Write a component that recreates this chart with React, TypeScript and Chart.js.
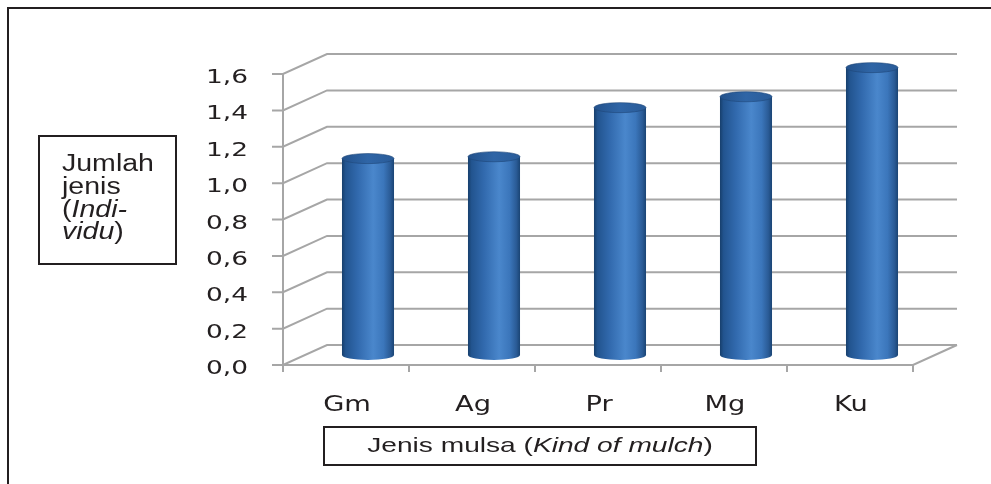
import React, { useEffect, useRef } from "react";
import { Chart, registerables } from "chart.js";

Chart.register(...registerables);

// ---- data ----
const categories = ["Gm", "Ag", "Pr", "Mg", "Ku"];
const values = [1.08, 1.09, 1.36, 1.42, 1.58];
const yTicks = [0, 0.2, 0.4, 0.6, 0.8, 1.0, 1.2, 1.4, 1.6];
const yTickLabels = ["0,0", "0,2", "0,4", "0,6", "0,8", "1,0", "1,2", "1,4", "1,6"];
type Part = { t: string; i?: boolean };
const yTitleLines: Part[][] = [
  [{ t: "Jumlah" }],
  [{ t: "jenis" }],
  [{ t: "(" }, { t: "Indi-", i: true }],
  [{ t: "vidu", i: true }, { t: ")" }],
];
const xTitle: Part[] = [{ t: "Jenis mulsa (" }, { t: "Kind of mulch", i: true }, { t: ")" }];

// ---- style ----
const DX = 44;
const DY = -20;
const GRID = "#a6a6a6";
const INK = "#231f20";

function drawRich(
  ctx: CanvasRenderingContext2D,
  parts: Part[],
  x: number,
  y: number,
  size: number,
  family: string,
  sx: number,
  align: "left" | "center" | "right"
) {
  const fonts = parts.map((p) => `${p.i ? "italic " : ""}${size}px ${family}`);
  let total = 0;
  const widths = parts.map((p, k) => {
    ctx.font = fonts[k];
    const w = ctx.measureText(p.t).width * sx;
    total += w;
    return w;
  });
  let cx = align === "center" ? x - total / 2 : align === "right" ? x - total : x;
  parts.forEach((p, k) => {
    ctx.save();
    ctx.font = fonts[k];
    ctx.fillStyle = INK;
    ctx.textAlign = "left";
    ctx.textBaseline = "alphabetic";
    ctx.translate(cx, y);
    ctx.scale(sx, 1);
    ctx.fillText(p.t, 0, 0);
    ctx.restore();
    cx += widths[k];
  });
}

const decorPlugin = {
  id: "decor3d",
  beforeDatasetsDraw(chart: any) {
    const { ctx, chartArea } = chart;
    const { left, right, top, bottom } = chartArea;
    const ys = chart.scales.y;
    const n = categories.length;

    ctx.save();
    // outer frame (top and left)
    ctx.strokeStyle = INK;
    ctx.lineWidth = 2;
    ctx.beginPath();
    ctx.moveTo(991, 8);
    ctx.lineTo(8, 8);
    ctx.lineTo(8, 484);
    ctx.stroke();

    // walls / gridlines
    ctx.strokeStyle = GRID;
    ctx.lineWidth = 2;
    ctx.lineCap = "butt";
    yTicks.forEach((v) => {
      const py = ys.getPixelForValue(v);
      ctx.beginPath();
      ctx.moveTo(left - 11, py);
      ctx.lineTo(left, py);
      ctx.lineTo(left + DX, py + DY);
      ctx.lineTo(right + DX, py + DY);
      ctx.stroke();
    });
    // front vertical axis
    ctx.beginPath();
    ctx.moveTo(left, top - 1);
    ctx.lineTo(left, bottom + 7);
    ctx.stroke();
    // floor front edge and right diagonal
    ctx.beginPath();
    ctx.moveTo(left, bottom);
    ctx.lineTo(right, bottom);
    ctx.lineTo(right + DX, bottom + DY);
    ctx.stroke();
    // category tick marks
    for (let i = 0; i <= n; i++) {
      const px = left + ((right - left) * i) / n;
      ctx.beginPath();
      ctx.moveTo(px, bottom);
      ctx.lineTo(px, bottom + 7);
      ctx.stroke();
    }

    // y tick labels
    yTicks.forEach((v, k) => {
      const py = ys.getPixelForValue(v);
      drawRich(ctx, [{ t: yTickLabels[k] }], 248, py + 9, 20, "'DejaVu Sans'", 1.32, "right");
    });

    // category labels
    const xs = chart.scales.x;
    categories.forEach((c, i) => {
      const px = xs.getPixelForValue(i);
      drawRich(ctx, [{ t: c }], px + 1, 410.5, 21, "'DejaVu Sans'", 1.3, "center");
    });

    // y title box
    ctx.strokeStyle = INK;
    ctx.lineWidth = 2;
    ctx.strokeRect(39, 136, 137, 128);
    const base = [171, 194, 216.5, 238.5];
    yTitleLines.forEach((line, k) => {
      drawRich(ctx, line, 62, base[k], 23, "'Liberation Sans'", 1.24, "left");
    });

    // x title box
    ctx.strokeRect(324, 427, 432, 38);
    drawRich(ctx, xTitle, 540, 451.5, 21, "'Liberation Sans'", 1.34, "center");

    ctx.restore();
  },
  afterDatasetsDraw(chart: any) {
    const { ctx } = chart;
    const meta = chart.getDatasetMeta(0);
    ctx.save();
    meta.data.forEach((bar: any) => {
      const p = bar.getProps(["x", "y", "base", "width"], true);
      const cx = p.x + DX / 2;
      const topY = p.y + DY / 2;
      const botY = p.base + DY / 2;
      const rx = p.width / 2;
      const ry = 5;

      const g = ctx.createLinearGradient(cx - rx, 0, cx + rx, 0);
      g.addColorStop(0, "#173f6c");
      g.addColorStop(0.07, "#22548f");
      g.addColorStop(0.3, "#3169ad");
      g.addColorStop(0.6, "#4a87cc");
      g.addColorStop(0.8, "#3b76bb");
      g.addColorStop(0.93, "#2a5b96");
      g.addColorStop(1, "#1a4474");

      ctx.beginPath();
      ctx.moveTo(cx - rx, topY);
      ctx.lineTo(cx - rx, botY);
      ctx.ellipse(cx, botY, rx, ry, 0, Math.PI, 0, true);
      ctx.lineTo(cx + rx, topY);
      ctx.closePath();
      ctx.fillStyle = g;
      ctx.fill();

      const gt = ctx.createLinearGradient(cx - rx, 0, cx + rx, 0);
      gt.addColorStop(0, "#23528c");
      gt.addColorStop(0.5, "#2f65a6");
      gt.addColorStop(1, "#2a5c99");
      ctx.beginPath();
      ctx.ellipse(cx, topY, rx, ry, 0, 0, Math.PI * 2);
      ctx.fillStyle = gt;
      ctx.fill();
      ctx.strokeStyle = "rgba(30,70,120,0.6)";
      ctx.lineWidth = 1;
      ctx.stroke();
    });
    ctx.restore();
  },
};

export default function App() {
  const ref = useRef<HTMLCanvasElement | null>(null);
  useEffect(() => {
    if (!ref.current) return;
    const chart = new Chart(ref.current, {
      type: "bar",
      data: {
        labels: categories,
        datasets: [
          {
            data: values,
            backgroundColor: "rgba(0,0,0,0)",
            borderWidth: 0,
            barPercentage: 0.413,
            categoryPercentage: 1,
          },
        ],
      },
      options: {
        responsive: false,
        animation: false,
        devicePixelRatio: 1,
        layout: { padding: { left: 283, right: 78, top: 74, bottom: 119 } },
        plugins: { legend: { display: false }, tooltip: { enabled: false }, title: { display: false } },
        scales: {
          x: { display: false },
          y: { display: false, min: 0, max: 1.6, ticks: { stepSize: 0.2 } },
        },
      },
      plugins: [decorPlugin],
    });
    return () => chart.destroy();
  }, []);
  return (
    <div style={{ position: "absolute", left: 0, top: 0, width: 991, height: 484, background: "#fff" }}>
      <canvas ref={ref} width={991} height={484} style={{ display: "block" }} />
    </div>
  );
}
